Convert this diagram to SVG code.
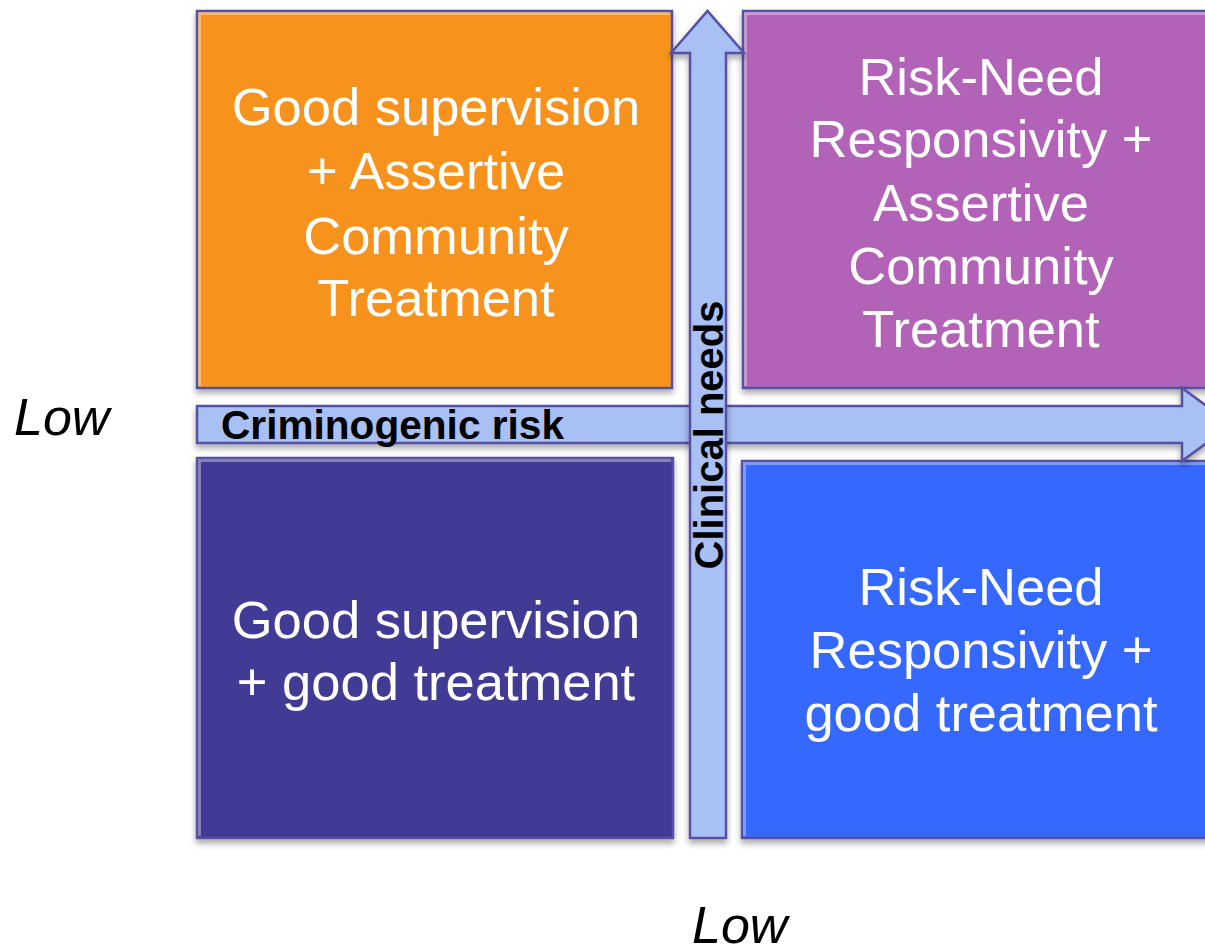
<svg xmlns="http://www.w3.org/2000/svg" width="1205" height="950" viewBox="0 0 1205 950">
  <style>
    .box { stroke: #5650A3; stroke-width: 2.5; filter: url(#sh); }
    .arrow { fill: #A9C0F5; stroke: #5650A3; stroke-width: 2.5; stroke-linejoin: miter; filter: url(#sh); }
    .bt { font-family: "Liberation Sans", Arial, sans-serif; font-size: 52.5px; fill: #FFFFFF; text-anchor: middle; }
    .axis { font-family: "Liberation Sans", Arial, sans-serif; font-size: 40px; font-weight: bold; fill: #000000; }
    .low { font-family: "Liberation Sans", Arial, sans-serif; font-size: 52px; font-style: italic; fill: #000000; }
    .hl { fill: none; stroke: #FFFFFF; stroke-opacity: 0.35; stroke-width: 3; }
  </style>
  <defs>
    <filter id="sh" x="-5%" y="-5%" width="110%" height="115%">
      <feDropShadow dx="0" dy="4" stdDeviation="3" flood-color="#000000" flood-opacity="0.35"/>
    </filter>
  </defs>
  <rect width="1205" height="950" fill="#FFFFFF"/>

  <g id="q-top-left">
    <rect class="box" x="197" y="11" width="475" height="377" fill="#F7921F"/>
    <polyline class="hl" points="199.5,386 199.5,13.5 670,13.5"/>
    <text class="bt" x="436" y="125">Good supervision</text>
    <text class="bt" x="436" y="189">+ Assertive</text>
    <text class="bt" x="436" y="254">Community</text>
    <text class="bt" x="436" y="316">Treatment</text>
  </g>

  <g id="q-top-right">
    <rect class="box" x="743" y="11" width="480" height="377" fill="#B263B8"/>
    <polyline class="hl" points="745.5,386 745.5,13.5 1215,13.5"/>
    <text class="bt" x="981" y="95">Risk-Need</text>
    <text class="bt" x="981" y="157">Responsivity +</text>
    <text class="bt" x="981" y="221">Assertive</text>
    <text class="bt" x="981" y="284">Community</text>
    <text class="bt" x="981" y="347">Treatment</text>
  </g>

  <g id="q-bottom-left">
    <rect class="box" x="197" y="458" width="476" height="380" fill="#423B95"/>
    <polyline class="hl" points="199.5,836 199.5,460.5 671,460.5"/>
    <text class="bt" x="436" y="638">Good supervision</text>
    <text class="bt" x="436" y="700">+ good treatment</text>
  </g>

  <g id="q-bottom-right">
    <rect class="box" x="742" y="461" width="481" height="377" fill="#3467FE"/>
    <polyline class="hl" points="744.5,836 744.5,463.5 1215,463.5"/>
    <text class="bt" x="981" y="605">Risk-Need</text>
    <text class="bt" x="981" y="668">Responsivity +</text>
    <text class="bt" x="981" y="731">good treatment</text>
  </g>

  <g id="connectors">
    <g id="axis-x">
      <polygon class="arrow" points="197,406 1182,406 1182,388 1232,424.5 1182,461 1182,443 197,443"/>
      <text class="axis" x="221" y="439" textLength="343" lengthAdjust="spacingAndGlyphs">Criminogenic risk</text>
    </g>
    <g id="axis-y">
      <polygon class="arrow" points="690,838 690,53 671,53 707.5,11 744,53 726,53 726,838"/>
      <text class="axis" transform="translate(723,435) rotate(-90)" text-anchor="middle">Clinical needs</text>
    </g>
  </g>

  <g id="labels">
    <text class="low" x="14" y="435">Low</text>
    <text class="low" x="692" y="943">Low</text>
  </g>
</svg>
